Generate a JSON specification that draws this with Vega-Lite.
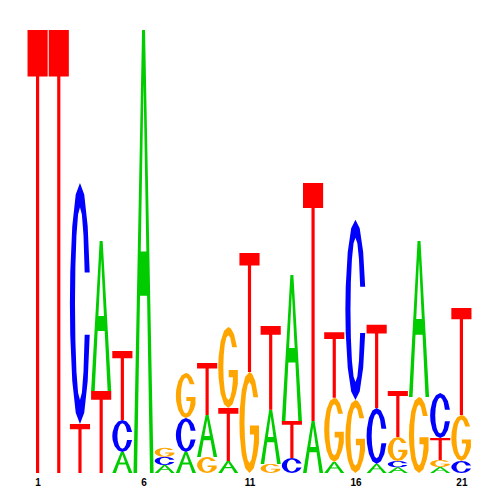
{
  "$schema": "https://vega.github.io/schema/vega-lite/v6.json",
  "width": 445,
  "height": 443,
  "autosize": {"type": "none"},
  "padding": {"left": 27, "top": 30, "right": 28, "bottom": 27},
  "background": "white",
  "config": {"view": {"stroke": null}},
  "data": {"values": [
    {"pos": 1, "base": "T", "bits": 2.0},
    {"pos": 2, "base": "T", "bits": 2.0},
    {"pos": 3, "base": "T", "bits": 0.221}, {"pos": 3, "base": "C", "bits": 1.088},
    {"pos": 4, "base": "T", "bits": 0.370}, {"pos": 4, "base": "A", "bits": 0.677},
    {"pos": 5, "base": "A", "bits": 0.095}, {"pos": 5, "base": "C", "bits": 0.144}, {"pos": 5, "base": "T", "bits": 0.312},
    {"pos": 6, "base": "A", "bits": 2.0},
    {"pos": 7, "base": "A", "bits": 0.036}, {"pos": 7, "base": "C", "bits": 0.037}, {"pos": 7, "base": "G", "bits": 0.041},
    {"pos": 8, "base": "A", "bits": 0.095}, {"pos": 8, "base": "C", "bits": 0.153}, {"pos": 8, "base": "G", "bits": 0.203},
    {"pos": 9, "base": "G", "bits": 0.072}, {"pos": 9, "base": "A", "bits": 0.190}, {"pos": 9, "base": "T", "bits": 0.235},
    {"pos": 10, "base": "A", "bits": 0.054}, {"pos": 10, "base": "T", "bits": 0.239}, {"pos": 10, "base": "G", "bits": 0.366},
    {"pos": 11, "base": "G", "bits": 0.456}, {"pos": 11, "base": "T", "bits": 0.537},
    {"pos": 12, "base": "G", "bits": 0.041}, {"pos": 12, "base": "A", "bits": 0.244}, {"pos": 12, "base": "T", "bits": 0.379},
    {"pos": 13, "base": "C", "bits": 0.068}, {"pos": 13, "base": "T", "bits": 0.167}, {"pos": 13, "base": "A", "bits": 0.659},
    {"pos": 14, "base": "A", "bits": 0.235}, {"pos": 14, "base": "T", "bits": 1.074},
    {"pos": 15, "base": "A", "bits": 0.050}, {"pos": 15, "base": "G", "bits": 0.290}, {"pos": 15, "base": "T", "bits": 0.296},
    {"pos": 16, "base": "G", "bits": 0.330}, {"pos": 16, "base": "C", "bits": 0.813},
    {"pos": 17, "base": "A", "bits": 0.041}, {"pos": 17, "base": "C", "bits": 0.253}, {"pos": 17, "base": "T", "bits": 0.375},
    {"pos": 18, "base": "A", "bits": 0.026}, {"pos": 18, "base": "C", "bits": 0.028}, {"pos": 18, "base": "G", "bits": 0.108}, {"pos": 18, "base": "T", "bits": 0.208},
    {"pos": 19, "base": "G", "bits": 0.343}, {"pos": 19, "base": "A", "bits": 0.704},
    {"pos": 20, "base": "A", "bits": 0.027}, {"pos": 20, "base": "G", "bits": 0.032}, {"pos": 20, "base": "T", "bits": 0.099}, {"pos": 20, "base": "C", "bits": 0.203},
    {"pos": 21, "base": "C", "bits": 0.054}, {"pos": 21, "base": "G", "bits": 0.208}, {"pos": 21, "base": "T", "bits": 0.483}
  ]},
  "transform": [
    {"stack": "bits", "groupby": ["pos"], "sort": [{"field": "bits", "order": "ascending"}], "as": ["y0", "y1"]},
    {"calculate": "datum.base == 'T' ? [[-0.475,1],[0.475,1],[0.475,0.895],[0.075,0.895],[0.075,0],[-0.075,0],[-0.075,0.895],[-0.475,0.895]] : datum.base == 'A' ? [[-0.475,0],[-0.07,1],[0.07,1],[0.475,0],[0.305,0],[0.166,0.4],[0.132,0.5],[0,0.88],[-0.132,0.5],[0.132,0.5],[0.166,0.4],[-0.166,0.4],[-0.305,0]] : datum.base == 'C' ? [[0.459,0.629],[0.364,0.821],[0.201,0.953],[0,1],[-0.201,0.953],[-0.364,0.821],[-0.459,0.629],[-0.475,0.5],[-0.459,0.371],[-0.364,0.179],[-0.201,0.047],[0,0],[0.201,0.047],[0.364,0.179],[0.459,0.371],[0.222,0.371],[0.166,0.217],[0.09,0.13],[0,0.1],[-0.09,0.13],[-0.166,0.217],[-0.217,0.347],[-0.235,0.5],[-0.217,0.653],[-0.166,0.783],[-0.09,0.87],[0,0.9],[0.09,0.87],[0.166,0.783],[0.222,0.629]] : [[0.411,0.75],[0.272,0.91],[0.123,0.983],[0,1],[-0.201,0.953],[-0.364,0.821],[-0.459,0.629],[-0.475,0.5],[-0.459,0.371],[-0.364,0.179],[-0.201,0.047],[0,0],[0.201,0.047],[0.364,0.179],[0.45,0.3],[0.45,0.47],[0.02,0.47],[0.02,0.38],[0.215,0.38],[0.215,0.338],[0.166,0.217],[0.09,0.13],[0,0.1],[-0.09,0.13],[-0.166,0.217],[-0.217,0.347],[-0.235,0.5],[-0.217,0.653],[-0.166,0.783],[-0.09,0.87],[0,0.9],[0.09,0.87],[0.183,0.75]]", "as": "glyph"},
    {"flatten": ["glyph"], "as": ["pt"]},
    {"calculate": "datum.pos + datum.pt[0]", "as": "gx"},
    {"calculate": "datum.y0 + datum.pt[1] * (datum.y1 - datum.y0)", "as": "gy"}
  ],
  "mark": {"type": "line", "filled": true, "interpolate": "linear-closed", "strokeWidth": 0},
  "encoding": {
    "x": {"field": "gx", "type": "quantitative",
      "scale": {"domain": [0.5, 21.5], "nice": false, "zero": false},
      "axis": {"values": [1, 6, 11, 16, 21], "ticks": false, "domain": false, "grid": false, "title": null,
        "labelFontSize": 10, "labelFontWeight": "bold", "labelFont": "Liberation Sans", "labelColor": "black", "labelPadding": 4}},
    "y": {"field": "gy", "type": "quantitative", "scale": {"domain": [0, 2], "nice": false, "zero": true}, "axis": null},
    "detail": [{"field": "pos", "type": "nominal"}, {"field": "base", "type": "nominal"}],
    "order": {"value": null},
    "color": {"field": "base", "type": "nominal",
      "scale": {"domain": ["A", "C", "G", "T"], "range": ["#00CC00", "#0000FF", "#FFA500", "#FF0000"]},
      "legend": null}
  }
}
